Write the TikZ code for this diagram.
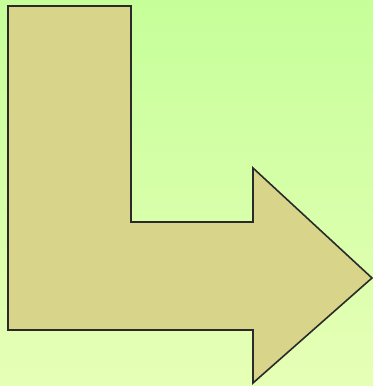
\documentclass[tikz,border=0pt]{standalone}
\usepackage{xcolor}
\usepackage{tikz}
\definecolor{bgtop}{HTML}{C6FF9A}
\definecolor{bgbottom}{HTML}{E6FFB6}
\definecolor{khaki}{HTML}{D8D48A}
\definecolor{edge}{HTML}{2A2A2A}

\begin{document}
\begin{tikzpicture}[x=1pt, y=-1pt,
  bendarrow/.style={fill=khaki, draw=edge, line width=1.6pt, line join=miter}
]
  % Background
  \shade[top color=bgtop, bottom color=bgbottom] (0,0) rectangle (373,386);
  \useasboundingbox (0,0) rectangle (373,386);

  % Bent arrow
  \draw[bendarrow]
    (8,6) -- (131,6) -- (131,222) -- (253,222) -- (253,168)
    -- (372,278) -- (253,383) -- (253,330) -- (8,330) -- cycle;
\end{tikzpicture}
\end{document}
